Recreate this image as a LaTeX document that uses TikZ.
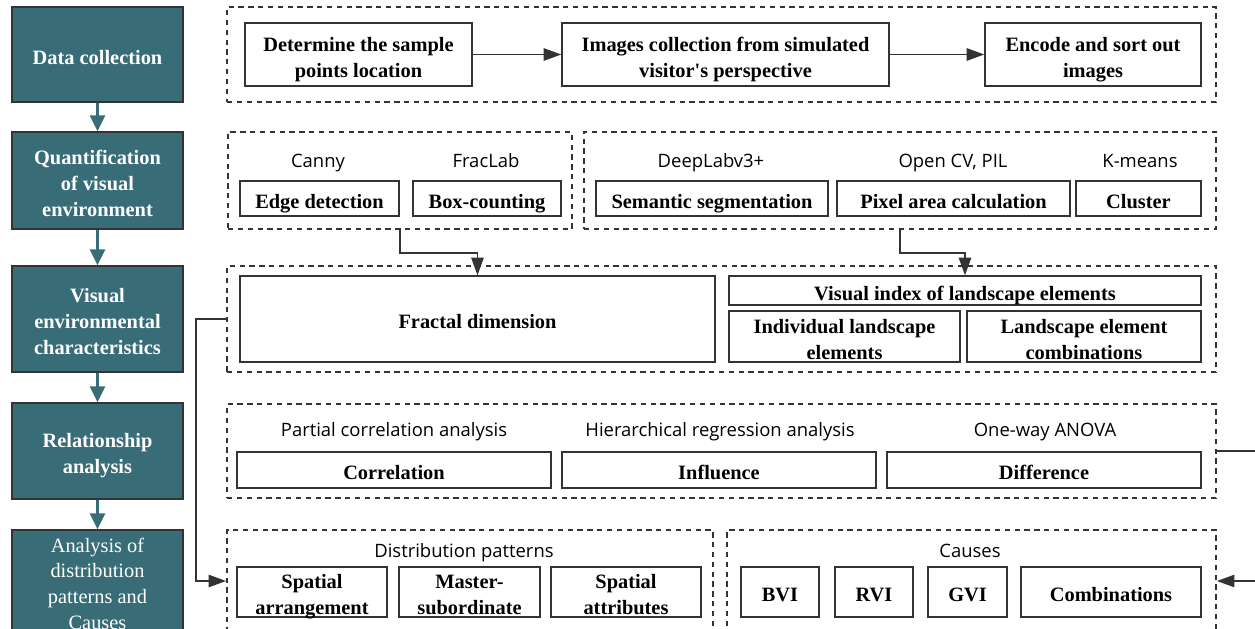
\documentclass[tikz,border=0pt]{standalone}
\usepackage{fontspec}
\setmainfont{Liberation Serif}
\newfontfamily\labelfont{Open Sans}
\usetikzlibrary{arrows.meta}
\definecolor{flow-teal}{HTML}{386C77}
\definecolor{flow-line}{HTML}{333333}
\tikzset{
    wh/.style 2 args={minimum width=#1*0.02cm, minimum height=#2*0.02cm},
    stage/.style={draw=flow-line, fill=flow-teal, text=white, inner sep=0pt, align=center,
        font=\fontsize{11.6}{14.7}\selectfont\bfseries, line width=0.8pt,
        text height=11.9pt, text depth=0.8pt},
    task/.style={draw=flow-line, inner sep=0pt, align=center,
        font=\fontsize{11.6}{14.7}\selectfont\bfseries, line width=0.8pt,
        text height=11.9pt, text depth=0.8pt},
    lines2/.style={text height=26.6pt},
    lines3/.style={text height=41.3pt},
    lines4/.style={text height=56pt},
    group/.style={draw=flow-line, dash pattern=on 3pt off 2.6pt, line width=1pt, inner sep=0pt},
    tool/.style={anchor=base, inner sep=0pt, font=\labelfont\fontsize{10.5}{12}\selectfont},
    next/.style={flow-teal, line width=1.4pt, -{Triangle[length=9pt,width=8.5pt]}},
    link/.style={flow-line, line width=1pt, -{Triangle[length=10pt,width=7pt]}}
}

\begin{document}
\begin{tikzpicture}[x=0.02cm, y=-0.02cm]
    \useasboundingbox (0,0) rectangle (1255,629);
    \clip (0,0) rectangle (1255,629);

    % stages on the left
    \node[stage, wh={171}{95}] (data) at (97.5,54.5) {Data collection};
    \node[stage, lines3, wh={171}{97}] (quant) at (97.5,180.5) {Quantification\\of visual\\environment};
    \node[stage, lines3, wh={171}{106}] (charac) at (97.5,319) {Visual\\environmental\\characteristics};
    \node[stage, lines2, wh={171}{96}] (relation) at (97.5,451) {Relationship\\analysis};
    \node[stage, lines4, wh={171}{102}, font=\fontsize{11.6}{14.7}\selectfont] (pattern) at (97.5,581)
        {Analysis of\\distribution\\patterns and\\Causes};
    \draw[next] (data) -- (quant);
    \draw[next] (quant) -- (charac);
    \draw[next] (charac) -- (relation);
    \draw[next] (relation) -- (pattern);

    % dashed groups
    \node[group, wh={989}{95}] (collect) at (721.5,54.5) {};
    \node[group, wh={344}{97}] (fractool) at (400,180.5) {};
    \node[group, wh={632}{97}] (segtool) at (900,180.5) {};
    \node[group, wh={989}{106}] (charbox) at (721.5,319) {};
    \node[group, wh={989}{94}] (relbox) at (721.5,451) {};
    \node[group, wh={486}{102}] (distbox) at (470,581) {};
    \node[group, wh={489}{102}] (causebox) at (971.5,581) {};

    % data collection
    \node[task, lines2, wh={227}{63}] (sample) at (358.5,54.5) {Determine the sample\\points location};
    \node[task, lines2, wh={327}{63}] (images) at (725.5,54.5) {Images collection from simulated\\visitor\textquotesingle s perspective};
    \node[task, lines2, wh={216}{63}] (encode) at (1093,54.5) {Encode and sort out\\images};
    \draw[link] (sample) -- (images);
    \draw[link] (images) -- (encode);

    % quantification
    \node[tool] (canny) at (318,167) {Canny};
    \node[tool] (fraclab) at (486,167) {FracLab};
    \node[tool] (deeplab) at (711,167) {DeepLabv3+};
    \node[tool] (opencv) at (953,167) {Open CV, PIL};
    \node[tool] (kmeans) at (1140,167) {K-means};
    \node[task, wh={159}{35}] (edge) at (319.5,198.5) {Edge detection};
    \node[task, wh={148}{35}] (boxcount) at (487,198.5) {Box-counting};
    \node[task, wh={232}{35}] (semantic) at (712,198.5) {Semantic segmentation};
    \node[task, wh={233}{35}] (pixel) at (953.5,198.5) {Pixel area calculation};
    \node[task, wh={125}{35}] (cluster) at (1138.5,198.5) {Cluster};

    % characteristics
    \node[task, wh={475}{86}] (fractal) at (477.5,319) {Fractal dimension};
    \node[task, wh={472}{29}] (vindex) at (965,290.5) {Visual index of landscape elements};
    \node[task, lines2, wh={231}{51}] (single) at (844.5,336.5) {Individual landscape\\elements};
    \node[task, lines2, wh={234}{51}] (combo) at (1084,336.5) {Landscape element\\combinations};
    \draw[link] (fractool.south) -- ++(0,23) -| (fractal.north);
    \draw[link] (segtool.south) -- ++(0,23) -| (vindex.north);

    % relationship analysis
    \node[tool] (partial) at (394,436) {Partial correlation analysis};
    \node[tool] (hier) at (720,436) {Hierarchical regression analysis};
    \node[tool] (anova) at (1045,436) {One-way ANOVA};
    \node[task, wh={314}{36}] (correl) at (394,470) {Correlation};
    \node[task, wh={314}{36}] (influence) at (719,470) {Influence};
    \node[task, wh={314}{36}] (differ) at (1044,470) {Difference};

    % distribution patterns and causes
    \node[tool] (distlabel) at (464,557) {Distribution patterns};
    \node[tool] (causelabel) at (970,557) {Causes};
    \node[task, lines2, wh={150}{50}] (arrange) at (312,592) {Spatial\\arrangement};
    \node[task, lines2, wh={141}{50}] (master) at (469.5,592) {Master-\\subordinate};
    \node[task, lines2, wh={150}{50}] (attrib) at (626,592) {Spatial\\attributes};
    \node[task, wh={78}{50}] (bvi) at (780,592) {BVI};
    \node[task, wh={78}{50}] (rvi) at (874,592) {RVI};
    \node[task, wh={79}{50}] (gvi) at (967.5,592) {GVI};
    \node[task, wh={180}{50}] (combis) at (1111,592) {Combinations};

    \draw[link] (charbox.west) -- ++(-30,0) |- (distbox.west);
    \draw[link] (relbox.east) -- ++(46,0) |- (causebox.east);
\end{tikzpicture}
\end{document}
